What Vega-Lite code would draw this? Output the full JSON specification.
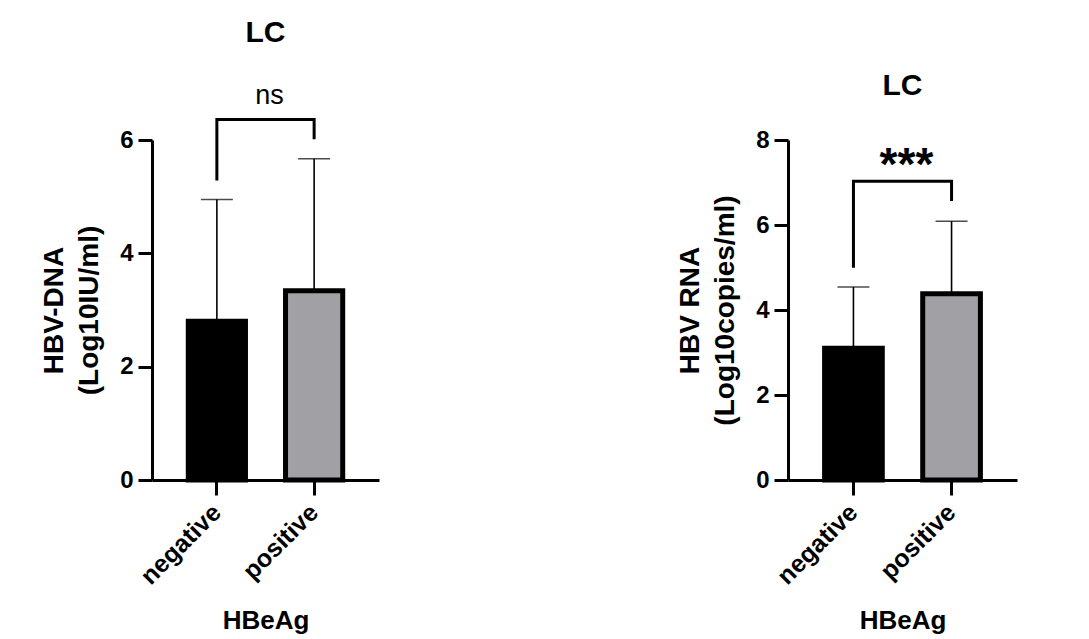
{
  "$schema": "https://vega.github.io/schema/vega-lite/v6.json",
  "background": "white",
  "padding": {"left": 40, "top": 17, "right": 5, "bottom": 5},
  "config": {
    "font": "Liberation Sans",
    "view": {"stroke": null},
    "concat": {"spacing": 297},
    "axis": {
      "grid": false,
      "domainColor": "black",
      "domainWidth": 3,
      "tickColor": "black",
      "tickWidth": 3,
      "tickSize": 14,
      "labelFont": "Liberation Sans",
      "labelFontSize": 24,
      "labelFontWeight": "bold",
      "labelColor": "black",
      "titleFont": "Liberation Sans",
      "titleFontSize": 28,
      "titleFontWeight": "bold",
      "titleColor": "black"
    },
    "title": {"font": "Liberation Sans", "fontSize": 30, "fontWeight": "bold", "color": "black"}
  },
  "datasets": {
    "dnaBars": [
      {"g": "negative", "mean": 2.8, "upper": 4.95},
      {"g": "positive", "mean": 3.34, "upper": 5.67}
    ],
    "dnaBracket": [
      {"g": "negative", "y": 5.31, "o": 1},
      {"g": "negative", "y": 6.36, "o": 2},
      {"g": "positive", "y": 6.36, "o": 3},
      {"g": "positive", "y": 6.04, "o": 4}
    ],
    "dnaSig": [{"g": "positive", "y": 6.78, "label": "ns"}],
    "rnaBars": [
      {"g": "negative", "mean": 3.1, "upper": 4.54},
      {"g": "positive", "mean": 4.38, "upper": 6.09}
    ],
    "rnaBracket": [
      {"g": "negative", "y": 5.03, "o": 1},
      {"g": "negative", "y": 7.03, "o": 2},
      {"g": "positive", "y": 7.03, "o": 3},
      {"g": "positive", "y": 6.6, "o": 4}
    ],
    "rnaSig": [{"g": "positive", "y": 7.4, "label": "***"}]
  },
  "hconcat": [
    {
      "width": 227,
      "height": 340,
      "title": {"text": "LC", "offset": 34},
      "layer": [
        {
          "data": {"name": "dnaBars"},
          "mark": {"type": "bar", "stroke": "black", "strokeWidth": 5},
          "encoding": {
            "x": {"field": "g", "type": "nominal", "sort": ["negative", "positive"],
                  "scale": {"paddingInner": 0.412, "paddingOuter": 0.373},
                  "axis": {"title": "HBeAg", "titleFontSize": 26, "labelFontSize": 25, "labelAngle": -45, "labelBaseline": "middle", "tickSize": 15, "labelPadding": 13, "titlePadding": 19}},
            "y": {"field": "mean", "type": "quantitative",
                  "scale": {"domain": [0, 6], "nice": false, "zero": true},
                  "axis": {"title": ["HBV-DNA", "(Log10IU/ml)"], "titleLineHeight": 35, "values": [0, 2, 4, 6], "format": "d", "labelPadding": 5, "titlePadding": 16}},
            "color": {"field": "g", "type": "nominal", "scale": {"domain": ["negative", "positive"], "range": ["#000000", "#a0a0a5"]}, "legend": null}
          }
        },
        {
          "data": {"name": "dnaBars"},
          "mark": {"type": "rule", "color": "black", "strokeWidth": 1.6},
          "encoding": {
            "x": {"field": "g", "type": "nominal", "sort": ["negative", "positive"]},
            "y": {"field": "mean", "type": "quantitative"},
            "y2": {"field": "upper"}
          }
        },
        {
          "data": {"name": "dnaBars"},
          "mark": {"type": "tick", "color": "black", "thickness": 1.6, "size": 32, "orient": "horizontal"},
          "encoding": {
            "x": {"field": "g", "type": "nominal", "sort": ["negative", "positive"]},
            "y": {"field": "upper", "type": "quantitative"}
          }
        },
        {
          "data": {"name": "dnaBracket"},
          "mark": {"type": "line", "color": "black", "strokeWidth": 3, "strokeCap": "square"},
          "encoding": {
            "x": {"field": "g", "type": "nominal", "sort": ["negative", "positive"]},
            "y": {"field": "y", "type": "quantitative"},
            "order": {"field": "o", "type": "quantitative"}
          }
        },
        {
          "data": {"name": "dnaSig"},
          "mark": {"type": "text", "fontSize": 27, "font": "Liberation Sans", "color": "black", "baseline": "middle", "align": "center"},
          "encoding": {
            "x": {"field": "g", "type": "nominal", "sort": ["negative", "positive"], "bandPosition": -0.282},
            "y": {"field": "y", "type": "quantitative"},
            "text": {"field": "label"}
          }
        }
      ]
    },
    {
      "width": 229,
      "height": 340,
      "title": {"text": "LC", "offset": 27},
      "layer": [
        {
          "data": {"name": "rnaBars"},
          "mark": {"type": "bar", "stroke": "black", "strokeWidth": 5},
          "encoding": {
            "x": {"field": "g", "type": "nominal", "sort": ["negative", "positive"],
                  "scale": {"paddingInner": 0.412, "paddingOuter": 0.373},
                  "axis": {"title": "HBeAg", "titleFontSize": 26, "labelFontSize": 25, "labelAngle": -45, "labelBaseline": "middle", "tickSize": 15, "labelPadding": 13, "titlePadding": 19}},
            "y": {"field": "mean", "type": "quantitative",
                  "scale": {"domain": [0, 8], "nice": false, "zero": true},
                  "axis": {"title": ["HBV RNA", "(Log10copies/ml)"], "titleLineHeight": 35, "values": [0, 2, 4, 6, 8], "format": "d", "labelPadding": 5, "titlePadding": 16}},
            "color": {"field": "g", "type": "nominal", "scale": {"domain": ["negative", "positive"], "range": ["#000000", "#a0a0a5"]}, "legend": null}
          }
        },
        {
          "data": {"name": "rnaBars"},
          "mark": {"type": "rule", "color": "black", "strokeWidth": 1.6},
          "encoding": {
            "x": {"field": "g", "type": "nominal", "sort": ["negative", "positive"]},
            "y": {"field": "mean", "type": "quantitative"},
            "y2": {"field": "upper"}
          }
        },
        {
          "data": {"name": "rnaBars"},
          "mark": {"type": "tick", "color": "black", "thickness": 1.6, "size": 32, "orient": "horizontal"},
          "encoding": {
            "x": {"field": "g", "type": "nominal", "sort": ["negative", "positive"]},
            "y": {"field": "upper", "type": "quantitative"}
          }
        },
        {
          "data": {"name": "rnaBracket"},
          "mark": {"type": "line", "color": "black", "strokeWidth": 3, "strokeCap": "square"},
          "encoding": {
            "x": {"field": "g", "type": "nominal", "sort": ["negative", "positive"]},
            "y": {"field": "y", "type": "quantitative"},
            "order": {"field": "o", "type": "quantitative"}
          }
        },
        {
          "data": {"name": "rnaSig"},
          "mark": {"type": "text", "fontSize": 46, "fontWeight": "bold", "font": "Liberation Sans", "color": "black", "baseline": "middle", "align": "center"},
          "encoding": {
            "x": {"field": "g", "type": "nominal", "sort": ["negative", "positive"], "bandPosition": -0.282},
            "y": {"field": "y", "type": "quantitative"},
            "text": {"field": "label"}
          }
        }
      ]
    }
  ]
}
